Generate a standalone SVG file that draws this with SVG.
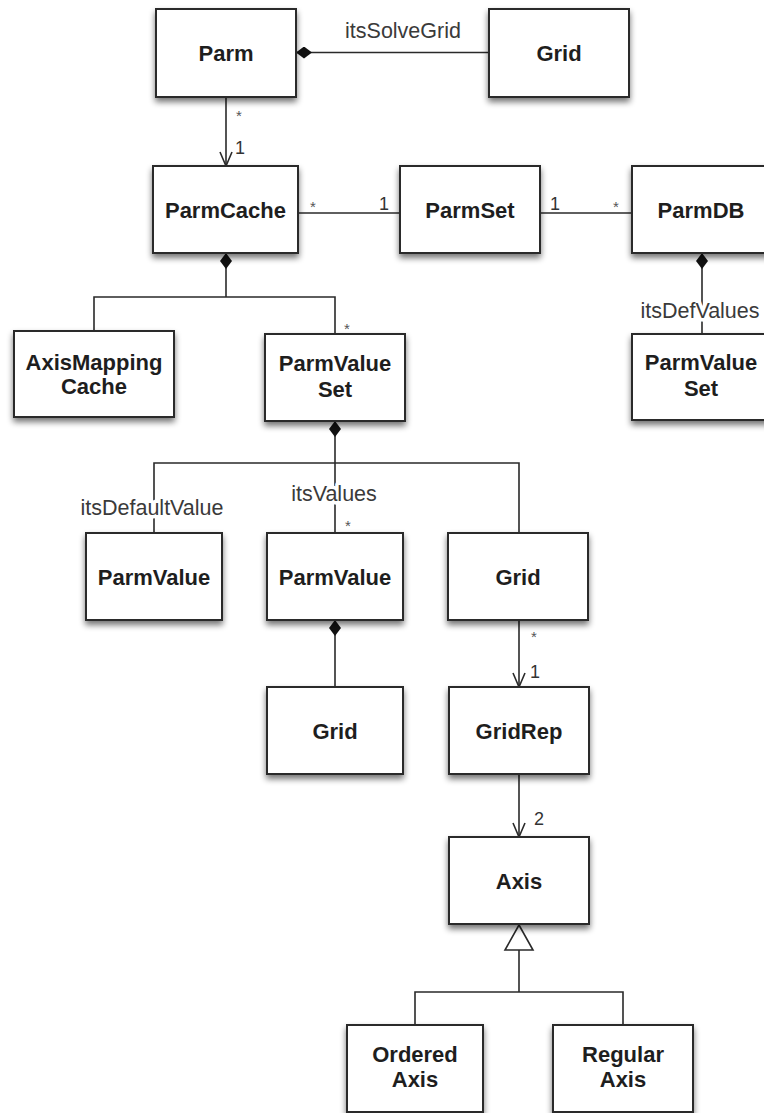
<svg xmlns="http://www.w3.org/2000/svg" width="764" height="1113" viewBox="0 0 764 1113">
<style>
.box{fill:#fff;stroke:#2a2a2a;stroke-width:2;filter:url(#sh)}
.t{font-family:"Liberation Sans",Arial,sans-serif;font-weight:bold;font-size:22px;fill:#1e1e1e;text-anchor:middle}
.lab{font-family:"Liberation Sans",Arial,sans-serif;font-size:21.5px;fill:#3a3a3a;text-anchor:middle;paint-order:stroke;stroke:#fff;stroke-width:7px;stroke-linejoin:round}
.m{font-family:"Liberation Sans",Arial,sans-serif;font-size:18px;fill:#333;text-anchor:middle}
.s{font-family:"Liberation Sans",Arial,sans-serif;font-size:15px;fill:#555;text-anchor:middle}
.c{fill:none;stroke:#2a2a2a;stroke-width:1.6}
</style>
<defs>
<filter id="sh" x="-20%" y="-20%" width="140%" height="150%">
<feGaussianBlur in="SourceAlpha" stdDeviation="3"/>
<feOffset dx="0" dy="4" result="b"/>
<feComponentTransfer><feFuncA type="linear" slope="0.55"/></feComponentTransfer>
<feMerge><feMergeNode/><feMergeNode in="SourceGraphic"/></feMerge>
</filter>
<marker id="dia" viewBox="0 0 16 12" refX="0" refY="6" markerWidth="16" markerHeight="12" markerUnits="userSpaceOnUse" orient="auto">
<path d="M0,6 L8,0 L16,6 L8,12 Z" fill="#111"/>
</marker>
<marker id="arr" viewBox="0 0 16 14" refX="15" refY="7" markerWidth="16" markerHeight="14" markerUnits="userSpaceOnUse" orient="auto">
<path d="M1,1 L15,7 L1,13" fill="none" stroke="#2a2a2a" stroke-width="1.6"/>
</marker>
</defs>

<g id="connectors">
<path class="c" d="M296,52.5 H489" marker-start="url(#dia)"/>
<path class="c" d="M226,97 V166" marker-end="url(#arr)"/>
<path class="c" d="M298,213 H400"/>
<path class="c" d="M540,213 H632"/>
<path class="c" d="M226,253 V297" marker-start="url(#dia)"/>
<path class="c" d="M94,331 V297 H335 V334"/>
<path class="c" d="M702,253 V334" marker-start="url(#dia)"/>
<path class="c" d="M335,421 V533" marker-start="url(#dia)"/>
<path class="c" d="M154,533 V463 H519 V533"/>
<path class="c" d="M335,620 V687" marker-start="url(#dia)"/>
<path class="c" d="M519,620 V687" marker-end="url(#arr)"/>
<path class="c" d="M519,774 V837" marker-end="url(#arr)"/>
<path class="c" d="M519,950 V992"/>
<path class="c" d="M415,1025 V992 H623 V1025"/>
<polygon points="519,925 533,950 505,950" fill="#fff" stroke="#2a2a2a" stroke-width="1.6"/>
<text class="lab" x="403" y="38" style="stroke-width:0">itsSolveGrid</text>
<text class="lab" x="700" y="318">itsDefValues</text>
<text class="lab" x="152" y="515">itsDefaultValue</text>
<text class="lab" x="334" y="501">itsValues</text>
<text class="s" x="239" y="121">*</text>
<text class="m" x="240" y="154">1</text>
<text class="s" x="313" y="212">*</text>
<text class="m" x="384" y="210">1</text>
<text class="m" x="555" y="210">1</text>
<text class="s" x="616" y="212">*</text>
<text class="s" x="347" y="334">*</text>
<text class="s" x="348" y="531">*</text>
<text class="s" x="534" y="642">*</text>
<text class="m" x="535" y="678">1</text>
<text class="m" x="539" y="825">2</text>
</g>

<g id="parm"><rect class="box" x="156" y="9" width="140" height="88"/><text class="t" x="226" y="61">Parm</text></g>
<g id="grid-top"><rect class="box" x="489" y="9" width="140" height="88"/><text class="t" x="559" y="61">Grid</text></g>
<g id="parmcache"><rect class="box" x="153" y="166" width="145" height="87"/><text class="t" x="225.5" y="218">ParmCache</text></g>
<g id="parmset"><rect class="box" x="400" y="166" width="140" height="87"/><text class="t" x="470" y="218">ParmSet</text></g>
<g id="parmdb"><rect class="box" x="632" y="166" width="140" height="87"/><text class="t" x="701" y="218">ParmDB</text></g>
<g id="axismappingcache"><rect class="box" x="14" y="331" width="160" height="86"/><text class="t" x="94" y="370">AxisMapping</text><text class="t" x="94" y="394">Cache</text></g>
<g id="parmvalueset"><rect class="box" x="265" y="334" width="140" height="87"/><text class="t" x="335" y="371">ParmValue</text><text class="t" x="335" y="397">Set</text></g>
<g id="parmvalueset-db"><rect class="box" x="632" y="334" width="140" height="86"/><text class="t" x="701" y="370">ParmValue</text><text class="t" x="701" y="396">Set</text></g>
<g id="parmvalue-default"><rect class="box" x="86" y="533" width="136" height="87"/><text class="t" x="154" y="585">ParmValue</text></g>
<g id="parmvalue-values"><rect class="box" x="267" y="533" width="136" height="87"/><text class="t" x="335" y="585">ParmValue</text></g>
<g id="grid-pvs"><rect class="box" x="448" y="533" width="140" height="87"/><text class="t" x="518" y="585">Grid</text></g>
<g id="grid-pv"><rect class="box" x="267" y="687" width="136" height="87"/><text class="t" x="335" y="739">Grid</text></g>
<g id="gridrep"><rect class="box" x="449" y="687" width="140" height="87"/><text class="t" x="519" y="739">GridRep</text></g>
<g id="axis"><rect class="box" x="449" y="837" width="140" height="87"/><text class="t" x="519" y="889">Axis</text></g>
<g id="orderedaxis"><rect class="box" x="347" y="1025" width="136" height="87"/><text class="t" x="415" y="1062">Ordered</text><text class="t" x="415" y="1087">Axis</text></g>
<g id="regularaxis"><rect class="box" x="553" y="1025" width="140" height="87"/><text class="t" x="623" y="1062">Regular</text><text class="t" x="623" y="1087">Axis</text></g>
</svg>
